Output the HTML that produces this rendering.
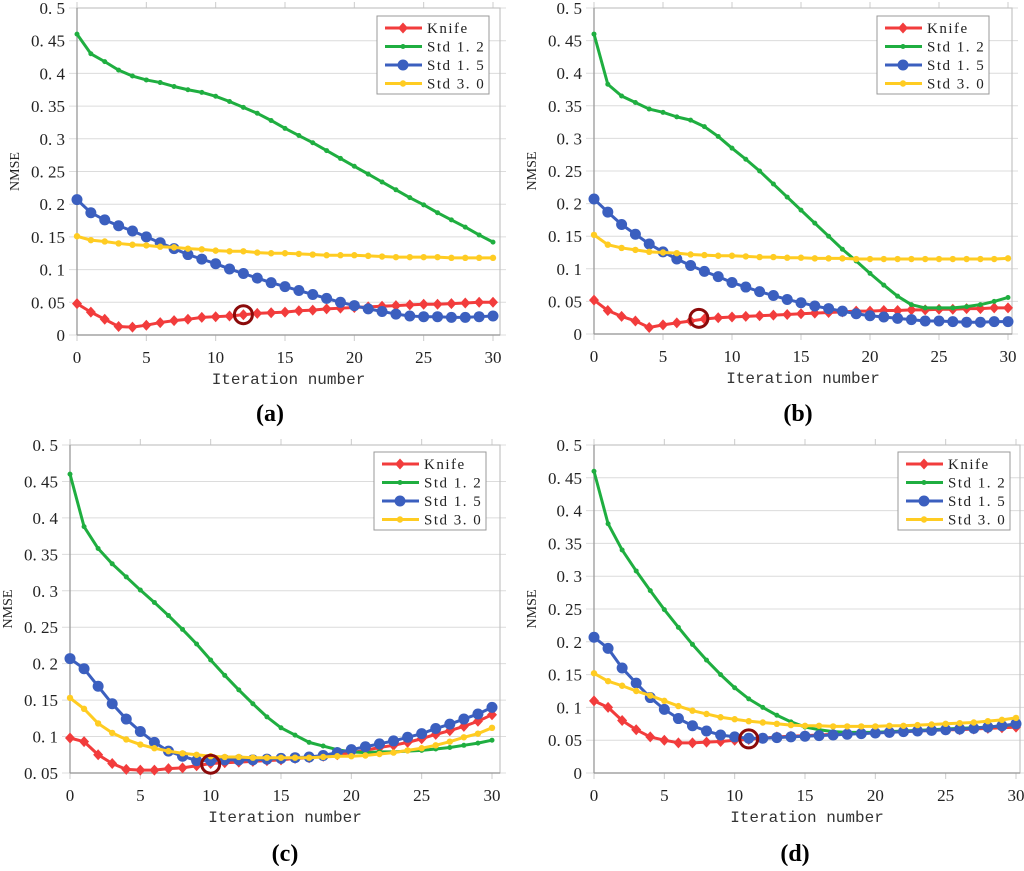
<!DOCTYPE html>
<html><head><meta charset="utf-8"><style>
body{margin:0;background:#fff;}
svg text{font-family:"Liberation Serif","Noto Serif CJK SC",serif;}
</style></head><body>
<svg id="s" width="1024" height="866" xmlns="http://www.w3.org/2000/svg"></svg>
<script>
const iterations = Array.from({length:31},(_,i)=>i);
const seriesNames = ["Knife","Std 1.2","Std 1.5","Std 3.0"];
const knifeA=[.048,.035,.024,.013,.012,.015,.019,.022,.024,.027,.028,.029,.031,.033,.034,.035,.037,.038,.040,.041,.042,.043,.044,.045,.046,.047,.047,.048,.049,.050,.050];
const std12A=[.46,.43,.418,.405,.396,.39,.386,.38,.375,.371,.365,.357,.348,.339,.328,.316,.305,.294,.282,.27,.258,.246,.234,.222,.21,.199,.187,.176,.165,.153,.142];
const std15A=[.207,.187,.176,.167,.159,.15,.141,.132,.123,.116,.109,.101,.094,.087,.080,.074,.068,.062,.056,.050,.045,.040,.036,.032,.029,.028,.028,.027,.027,.028,.029];
const std30A=[.151,.145,.143,.14,.138,.137,.135,.134,.132,.131,.129,.128,.128,.126,.125,.125,.124,.123,.122,.122,.122,.121,.120,.119,.119,.119,.119,.118,.118,.118,.118];
const knifeB=[.052,.036,.027,.020,.010,.014,.017,.020,.023,.025,.026,.027,.028,.029,.030,.031,.032,.033,.034,.035,.035,.036,.036,.037,.037,.038,.038,.039,.039,.040,.040];
const std12B=[.46,.383,.365,.355,.345,.34,.333,.328,.318,.303,.285,.268,.25,.23,.21,.19,.17,.15,.13,.112,.093,.075,.058,.045,.04,.04,.04,.042,.045,.05,.056];
const std15B=[.207,.187,.168,.153,.138,.126,.115,.105,.096,.088,.079,.072,.065,.059,.053,.048,.043,.039,.035,.031,.028,.026,.024,.022,.02,.02,.019,.018,.018,.019,.019];
const std30B=[.152,.137,.132,.129,.126,.125,.124,.122,.121,.12,.12,.119,.118,.118,.117,.117,.116,.116,.116,.115,.115,.115,.115,.115,.115,.115,.115,.115,.115,.115,.116];
const knifeC=[.098,.093,.075,.063,.055,.054,.054,.056,.057,.060,.063,.064,.065,.066,.067,.068,.070,.071,.073,.075,.078,.081,.085,.088,.092,.097,.103,.108,.114,.121,.130];
const std12C=[.46,.388,.358,.337,.319,.301,.284,.266,.247,.227,.205,.184,.164,.145,.127,.112,.102,.092,.087,.082,.079,.078,.079,.079,.08,.081,.083,.085,.088,.091,.095];
const std15C=[.207,.193,.169,.145,.124,.107,.092,.080,.073,.067,.067,.068,.068,.068,.069,.070,.071,.072,.074,.078,.082,.086,.090,.094,.099,.104,.111,.117,.124,.131,.140];
const std30C=[.153,.138,.118,.105,.096,.089,.084,.080,.077,.075,.073,.072,.072,.071,.071,.071,.071,.071,.072,.073,.073,.074,.076,.078,.081,.084,.088,.093,.099,.104,.112];
const knifeD=[.11,.10,.08,.066,.055,.05,.046,.046,.047,.048,.05,.051,.053,.055,.056,.057,.058,.059,.060,.061,.062,.062,.063,.064,.065,.066,.066,.067,.068,.069,.07];
const std12D=[.46,.38,.34,.308,.278,.249,.222,.196,.172,.15,.13,.113,.1,.088,.078,.07,.066,.063,.062,.062,.062,.063,.064,.065,.066,.067,.068,.069,.07,.072,.074];
const std15D=[.207,.19,.16,.137,.115,.097,.083,.072,.064,.058,.055,.053,.053,.054,.055,.056,.057,.058,.059,.06,.061,.062,.063,.064,.065,.066,.067,.068,.07,.072,.075];
const std30D=[.152,.14,.133,.125,.118,.11,.102,.095,.09,.085,.082,.079,.077,.075,.073,.072,.072,.071,.071,.071,.071,.072,.072,.073,.074,.075,.076,.077,.079,.081,.084];
const xTicks=[0,5,10,15,20,25,30];
const yTicksFull=[0,0.05,0.1,0.15,0.2,0.25,0.3,0.35,0.4,0.45,0.5];
const yTicksC=[0.05,0.1,0.15,0.2,0.25,0.3,0.35,0.4,0.45,0.5];
const highlights={a:[12,0.031],b:[7.6,0.024],c:[10,0.062],d:[11,0.052]};

const NS="http://www.w3.org/2000/svg";
const svg=document.getElementById('s');
function mk(tag,attrs,parent){const e=document.createElementNS(NS,tag);for(const k in attrs)e.setAttribute(k,attrs[k]);(parent||svg).appendChild(e);return e;}
const colors=["#f23c3c","#1fae40","#3b5fbf","#ffcc22"];
function marker(g,type,x,y,c){
  let m;
  if(type===0)m=mk('path',{d:`M${x} ${y-5.5}L${x+5} ${y}L${x} ${y+5.5}L${x-5} ${y}Z`,fill:c},g);
  else if(type===1)m=mk('circle',{cx:x,cy:y,r:2.5,fill:c},g);
  else if(type===2)m=mk('circle',{cx:x,cy:y,r:5.5,fill:c},g);
  else m=mk('circle',{cx:x,cy:y,r:3.2,fill:c},g);
  return m;
}
function panel(id,cfg,data,yTicks,ymin,cap){
  const g=mk('g',{});
  
  
  const X=v=>cfg.x0+(v/30)*(cfg.x1-cfg.x0);
  const Y=v=>cfg.yb+(v-ymin)/(0.5-ymin)*(cfg.yt-cfg.yb);
  yTicks.forEach(t=>{
    const gl=mk('line',{x1:cfg.x0-8,x2:cfg.xr+6,y1:Y(t),y2:Y(t),stroke:"#dcdcdc","stroke-width":1},g);
    
    
    const tl=mk('text',{x:cfg.x0-12,y:Y(t)+6,"text-anchor":"end","font-size":17,fill:"#222"},g);
    tl.textContent=String(t).replace(/^0\./,'0. ');
    
    
  });
  xTicks.forEach(t=>{
    mk('line',{x1:X(t),x2:X(t),y1:cfg.yt-6,y2:cfg.yt,stroke:"#ccc"},g);
    mk('line',{x1:X(t),x2:X(t),y1:cfg.yb,y2:cfg.yb+6,stroke:"#ccc"},g);
    const tl=mk('text',{x:X(t),y:cfg.yb+28,"text-anchor":"middle","font-size":17,fill:"#222"},g);
    tl.textContent=t;
    
    
  });
  mk('rect',{x:cfg.x0,y:cfg.yt,width:cfg.xr-cfg.x0,height:cfg.yb-cfg.yt,fill:"none",stroke:"#c4c4c4","stroke-width":1.2},g);
  mk('line',{x1:cfg.x0,x2:cfg.x0,y1:cfg.yt,y2:cfg.yb,stroke:"#999","stroke-width":1.2},g);
  mk('line',{x1:cfg.x0,x2:cfg.xr,y1:cfg.yb,y2:cfg.yb,stroke:"#999","stroke-width":1.2},g);
  data.forEach((arr,si)=>{
    const sg=mk('g',{},g);
    
    
    mk('polyline',{points:arr.map((v,i)=>X(iterations[i])+','+Y(v)).join(' '),fill:"none",stroke:colors[si],"stroke-width":3,"stroke-linejoin":"round"},sg);
    arr.forEach((v,i)=>{const m=marker(sg,si,X(iterations[i]),Y(v),colors[si]);
      
      });
  });
  const h=highlights[id];
  const hc=mk('circle',{cx:X(h[0]),cy:Y(h[1]),r:9,fill:"none",stroke:"#8b0a0a","stroke-width":3},g);
  
  
  const lg=mk('g',{},g);
  
  
  mk('rect',{x:cfg.lx,y:cfg.ly,width:112,height:78,fill:"#fff",stroke:"#999"},lg);
  seriesNames.forEach((n,i)=>{
    const yy=cfg.ly+12+18.5*i;
    const e=mk('g',{},lg);
    
    
    mk('line',{x1:cfg.lx+8,x2:cfg.lx+45,y1:yy,y2:yy,stroke:colors[i],"stroke-width":3},e);
    marker(e,i,cfg.lx+26,yy,colors[i]);
    const t=mk('text',{x:cfg.lx+50,y:yy+5,"font-size":15,fill:"#222","letter-spacing":"1.5"},e);
    t.textContent=n.replace('.','. ');
  });
  const yl=mk('text',{x:0,y:0,"text-anchor":"middle","font-size":14,fill:"#222",transform:`translate(${cfg.x0-58},${(cfg.yt+cfg.yb)/2}) rotate(-90)`},g);
  yl.textContent="NMSE";
  
  
  const xl=mk('text',{x:(cfg.x0+cfg.xr)/2,y:cfg.yb+49,"text-anchor":"middle","font-size":16,fill:"#333",style:"font-family:'Liberation Mono',monospace"},g);
  xl.textContent="Iteration number";
  
  
  const c=mk('text',{x:cfg.cx,y:cfg.cy,"text-anchor":"middle","font-size":24,"font-weight":"bold",fill:"#000"},g);
  c.textContent=cap;
  
  
}
panel('a',{x0:77,x1:493,xr:500,yt:8,yb:335,lx:377,ly:16,cx:270,cy:421},[knifeA,std12A,std15A,std30A],yTicksFull,0,"(a)");
panel('b',{x0:594,x1:1008,xr:1012,yt:8,yb:334,lx:877,ly:16,cx:798,cy:421},[knifeB,std12B,std15B,std30B],yTicksFull,0,"(b)");
panel('c',{x0:70,x1:492,xr:500,yt:445,yb:773,lx:374,ly:452,cx:285,cy:861},[knifeC,std12C,std15C,std30C],yTicksC,0.05,"(c)");
panel('d',{x0:594,x1:1016,xr:1020,yt:445,yb:773,lx:898,ly:452,cx:795,cy:861},[knifeD,std12D,std15D,std30D],yTicksFull,0,"(d)");
</script>
</body></html>
